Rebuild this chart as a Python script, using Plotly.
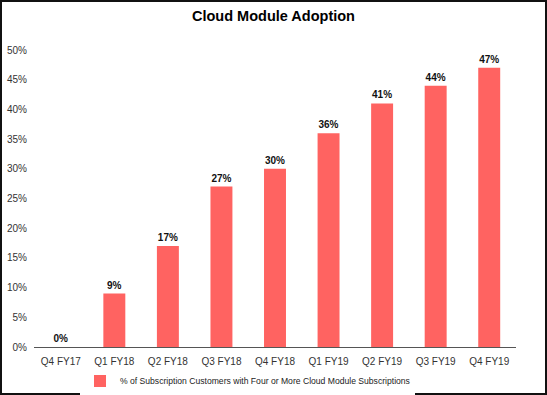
import plotly.graph_objects as go

categories = ["Q4 FY17", "Q1 FY18", "Q2 FY18", "Q3 FY18", "Q4 FY18",
              "Q1 FY19", "Q2 FY19", "Q3 FY19", "Q4 FY19"]
values = [0, 9, 17, 27, 30, 36, 41, 44, 47]
series_name = "% of Subscription Customers with Four or More Cloud Module Subscriptions"
y_ticks = [0, 5, 10, 15, 20, 25, 30, 35, 40, 45, 50]

W, H = 547, 395
ml, mr, mt, mb = 34, 31, 50, 48
pw, ph = W - ml - mr, H - mt - mb

fig = go.Figure()
fig.add_trace(go.Bar(
    x=categories, y=values, name=series_name,
    marker=dict(color="#FF6361", line=dict(width=0)),
    text=[f"{v}%" for v in values], textposition="outside",
    textfont=dict(family="Liberation Sans, Arial", size=10, color="#111"),
    texttemplate="<b>%{text}</b>", cliponaxis=False,
))

fig.update_layout(
    width=W, height=H,
    margin=dict(l=ml, r=mr, t=mt, b=mb, autoexpand=False),
    paper_bgcolor="white", plot_bgcolor="white",
    font=dict(family="Liberation Sans, Arial", size=10, color="#222"),
    title=dict(text="<b>Cloud Module Adoption</b>", x=0.5, xanchor="center",
               yref="container", y=1 - 16 / H, yanchor="middle",
               font=dict(size=14.5, color="#000")),
    bargap=0.59,
    showlegend=True,
    legend=dict(orientation="h", x=(80 - ml) / pw, xanchor="left",
                yref="container", y=1 - 381 / H, yanchor="middle",
                font=dict(size=8.6, color="#222"),
                itemwidth=30, traceorder="normal"),
    xaxis=dict(showline=True, linecolor="#555", linewidth=1, ticks="",
               tickfont=dict(size=10, color="#333"), showgrid=False,
               ticklabelstandoff=5, automargin=False),
    yaxis=dict(range=[0, 50], tickvals=y_ticks, ticktext=[f"{t}%" for t in y_ticks],
               showgrid=False, zeroline=False, showline=False,
               tickfont=dict(size=10, color="#333"), ticklabelstandoff=6,
               automargin=False),
    shapes=[dict(type="rect", xref="paper", yref="paper",
                 x0=(1 - ml) / pw, x1=(546 - ml) / pw,
                 y0=(mt + ph - 394) / ph, y1=(mt + ph - 1) / ph,
                 line=dict(color="#111", width=2), fillcolor="rgba(0,0,0,0)")],
)

fig.write_html("out.html", config={"displayModeBar": False},
               post_script="document.body.style.margin='0';document.body.style.overflow='hidden';")
